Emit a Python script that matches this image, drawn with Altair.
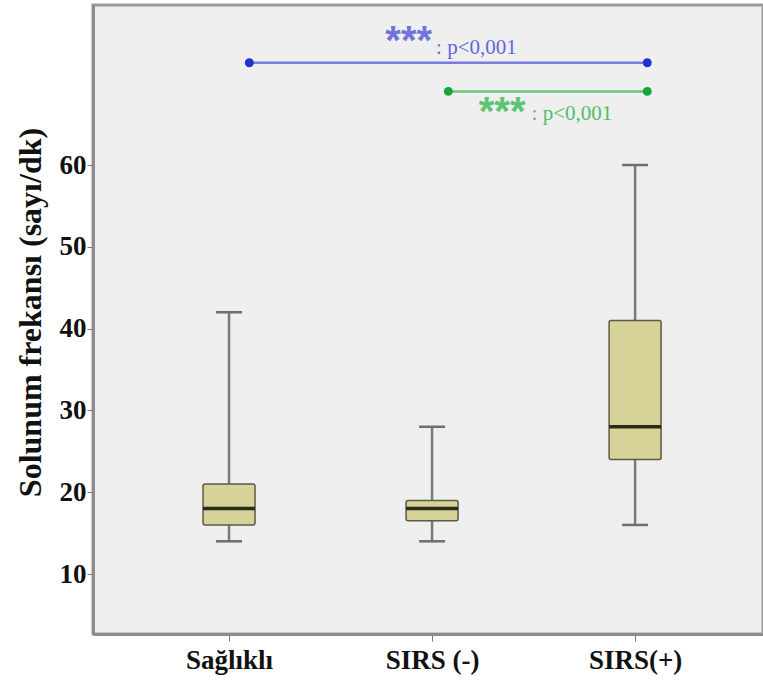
import altair as alt
import pandas as pd

groups = ["Sağlıklı", "SIRS (-)", "SIRS(+)"]
positions = [0, 1, 2]
whisker_low = [14, 14, 16]
q1 = [16, 16.5, 24]
median = [18, 18, 28]
q3 = [21, 19, 41]
whisker_high = [42, 28, 60]

# significance brackets
sig_x1 = [0.1, 1.08]
sig_x2 = [2.06, 2.06]
sig_y = [72.5, 69.0]
sig_color = ["#5a5fdb", "#45bd60"]
sig_dot = ["#2430cf", "#15a63a"]
star_x = [0.77, 1.23]
star_y = [75.0, 66.4]
ptext_x = [1.02, 1.49]
ptext_y = [74.3, 66.2]
ptext = [": p<0,001", ": p<0,001"]

box_half = 0.128
cap_half = 0.064

df = pd.DataFrame({
    "group": groups, "pos": positions, "lo": whisker_low, "q1": q1,
    "med": median, "q3": q3, "hi": whisker_high,
})
sig = pd.DataFrame({"x1": sig_x1, "x2": sig_x2, "y": sig_y, "c": sig_color, "d": sig_dot,
                    "sx": star_x, "sy": star_y, "px": ptext_x, "py": ptext_y, "pt": ptext})

xscale = alt.Scale(domain=[-0.67, 2.63], nice=False, zero=False)
yscale = alt.Scale(domain=[2.67, 79.56], nice=False, zero=False)

label_expr = "datum.value == 0 ? 'Sağlıklı' : datum.value == 1 ? 'SIRS (-)' : 'SIRS(+)'"

base = alt.Chart(df).transform_calculate(
    bl=f"datum.pos - {box_half}", br=f"datum.pos + {box_half}",
    cl=f"datum.pos - {cap_half}", cr=f"datum.pos + {cap_half}",
)

xaxis = alt.X("pos:Q", scale=xscale, axis=alt.Axis(
    values=[0, 1, 2], labelExpr=label_expr, title=None, grid=False,
    labelFont="Liberation Serif", labelFontWeight="bold", labelFontSize=27,
    labelColor="#111", labelPadding=6, tickColor="#777", tickSize=7, tickWidth=1,
    domainColor="#8c8c8c", domainWidth=3))
yaxis = alt.Y("lo:Q", scale=yscale, axis=alt.Axis(
    values=[10, 20, 30, 40, 50, 60], title="Solunum frekansı (sayı/dk)", grid=False,
    labelFont="Liberation Serif", labelFontWeight="bold", labelFontSize=27,
    labelColor="#111", labelPadding=1, tickColor="#777", tickSize=6, tickWidth=1,
    domainColor="#8c8c8c", domainWidth=3,
    titleFont="Liberation Serif", titleFontWeight="bold", titleFontSize=32,
    titleColor="#111", titleAlign="center", titleBaseline="middle",
    titleX=-63, titleY=307))

whisk = base.mark_rule(color="#7a7a7a", strokeWidth=2.5).encode(
    x=xaxis, y=yaxis, y2="hi:Q")
caps_lo = base.mark_rule(color="#6e6e6e", strokeWidth=2.5).encode(
    x=alt.X("cl:Q", scale=xscale), x2="cr:Q", y=alt.Y("lo:Q", scale=yscale))
caps_hi = base.mark_rule(color="#6e6e6e", strokeWidth=2.5).encode(
    x=alt.X("cl:Q", scale=xscale), x2="cr:Q", y=alt.Y("hi:Q", scale=yscale))
box = base.mark_rect(fill="#d6d298", stroke="#5a5a4a", strokeWidth=1.5,
                     cornerRadius=2).encode(
    x=alt.X("bl:Q", scale=xscale), x2="br:Q", y=alt.Y("q1:Q", scale=yscale), y2="q3:Q")
med = base.mark_rule(color="#2a2a1a", strokeWidth=3.5).encode(
    x=alt.X("bl:Q", scale=xscale), x2="br:Q", y=alt.Y("med:Q", scale=yscale))

sb = alt.Chart(sig)
sig_lines = sb.mark_rule(strokeWidth=2.5, opacity=0.8).encode(
    x=alt.X("x1:Q", scale=xscale), x2="x2:Q", y=alt.Y("y:Q", scale=yscale),
    color=alt.Color("c:N", scale=None))
dots1 = sb.mark_circle(size=80, opacity=1).encode(
    x=alt.X("x1:Q", scale=xscale), y=alt.Y("y:Q", scale=yscale),
    color=alt.Color("d:N", scale=None))
dots2 = sb.mark_circle(size=80, opacity=1).encode(
    x=alt.X("x2:Q", scale=xscale), y=alt.Y("y:Q", scale=yscale),
    color=alt.Color("d:N", scale=None))
stars = sb.mark_text(text="***", font="Liberation Sans", fontWeight="bold", fontSize=40,
                     align="left", baseline="middle", opacity=0.85).encode(
    x=alt.X("sx:Q", scale=xscale), y=alt.Y("sy:Q", scale=yscale),
    color=alt.Color("c:N", scale=None))
ptxt = sb.mark_text(font="Liberation Serif", fontSize=21, align="left",
                    baseline="middle", opacity=0.95).encode(
    x=alt.X("px:Q", scale=xscale), y=alt.Y("py:Q", scale=yscale),
    text="pt:N", color=alt.Color("c:N", scale=None))

chart = alt.layer(whisk, caps_lo, caps_hi, box, med, sig_lines, dots1, dots2, stars, ptxt).properties(
    width=670, height=629,
    autosize=alt.AutoSizeParams(type="none"),
    padding={"left": 93, "top": 5, "right": 0, "bottom": 55},
    background="white",
).configure_view(fill="#efefef", stroke="#9a9a9a", strokeWidth=3)

chart.save("out.html", embed_options={"renderer": "svg", "actions": False})
